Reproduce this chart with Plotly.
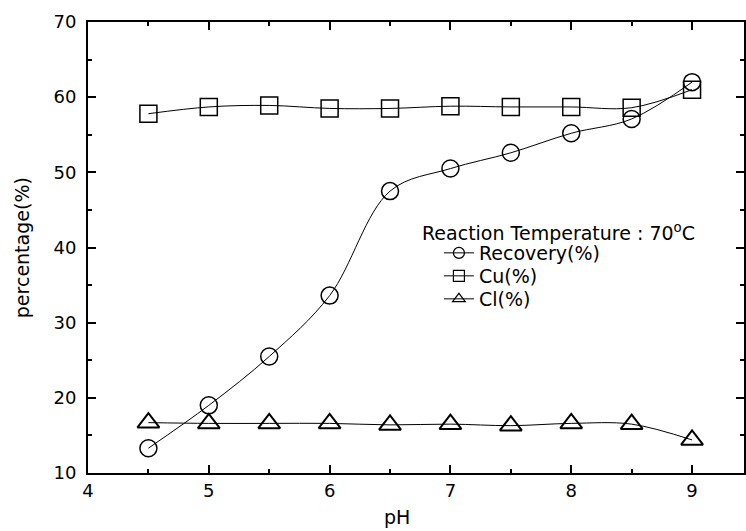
import plotly.graph_objects as go

ph = [4.5, 5.0, 5.5, 6.0, 6.5, 7.0, 7.5, 8.0, 8.5, 9.0]
recovery = [13.3, 19.0, 25.5, 33.6, 47.5, 50.5, 52.6, 55.2, 57.1, 62.0]
cu = [57.8, 58.7, 58.9, 58.5, 58.5, 58.8, 58.7, 58.7, 58.6, 61.0]
cl = [16.7, 16.6, 16.6, 16.6, 16.4, 16.5, 16.3, 16.6, 16.5, 14.4]

legend_title = "Reaction Temperature : 70<sup>o</sup>C"
series = [
    ("Recovery(%)", recovery, "circle-open", 17, 1.5, "legend"),
    ("Cu(%)", cu, "square-open", 17, 1.5, "legend2"),
    ("Cl(%)", cl, "triangle-up-open", 19, 2, "legend3"),
]

FONT = "DejaVu Sans, sans-serif"
fig = go.Figure()
for name, vals, sym, size, mlw, lg in series:
    fig.add_trace(go.Scatter(
        x=ph, y=vals, mode="lines+markers", name=name, showlegend=False,
        line=dict(color="black", width=1, shape="spline", smoothing=1),
        marker=dict(symbol=sym, size=size, color="black", line=dict(width=mlw, color="black")),
    ))
for name, vals, sym, size, mlw, lg in series:
    fig.add_trace(go.Scatter(
        x=[None], y=[None], mode="lines+markers", name=name, legend=lg,
        line=dict(color="black", width=1),
        marker=dict(symbol=sym, size=11, color="black", line=dict(width=1.2, color="black")),
    ))

axis_common = dict(
    showline=True, linecolor="black", linewidth=2, mirror="ticks",
    ticks="inside", ticklen=8, tickwidth=1.5, tickcolor="black",
    showgrid=False, zeroline=False,
    tickfont=dict(family=FONT, size=18, color="black"),
)
fig.update_xaxes(
    range=[4, 9.43], tickmode="linear", tick0=4, dtick=1,
    minor=dict(ticks="inside", ticklen=4, tickwidth=1.5, tickcolor="black", dtick=0.5, tick0=4),
    **axis_common,
)
fig.update_yaxes(
    range=[10, 70], tickmode="linear", tick0=10, dtick=10,
    minor=dict(ticks="inside", ticklen=4, tickwidth=1.5, tickcolor="black", dtick=5, tick0=10),
    ticklabelstandoff=6,
    **axis_common,
)

def px_x(p):
    return (p - 88) / 658.0

def px_y(p):
    return (473 - p) / 451.0

leg_common = dict(
    xanchor="left", yanchor="middle", bgcolor="rgba(0,0,0,0)", borderwidth=0,
    font=dict(family=FONT, size=19, color="black"),
)
fig.update_layout(
    width=746, height=531,
    margin=dict(l=88, r=0, t=22, b=58),
    plot_bgcolor="white", paper_bgcolor="white",
    font=dict(family=FONT, size=18, color="black"),
    legend=dict(x=px_x(440), y=px_y(253), **leg_common),
    legend2=dict(x=px_x(440), y=px_y(276), **leg_common),
    legend3=dict(x=px_x(440), y=px_y(299), **leg_common),
    annotations=[
        dict(text=legend_title, xref="paper", yref="paper", x=px_x(421), y=px_y(232),
             xanchor="left", yanchor="middle", showarrow=False,
             font=dict(family=FONT, size=19, color="black")),
        dict(text="pH", xref="paper", yref="paper", x=px_x(398), y=px_y(517),
             xanchor="center", yanchor="middle", showarrow=False,
             font=dict(family=FONT, size=19, color="black")),
        dict(text="percentage(%)", xref="paper", yref="paper", x=px_x(22), y=px_y(248),
             xanchor="center", yanchor="middle", showarrow=False, textangle=-90,
             font=dict(family=FONT, size=19, color="black")),
    ],
)
fig.write_html("out.html")
